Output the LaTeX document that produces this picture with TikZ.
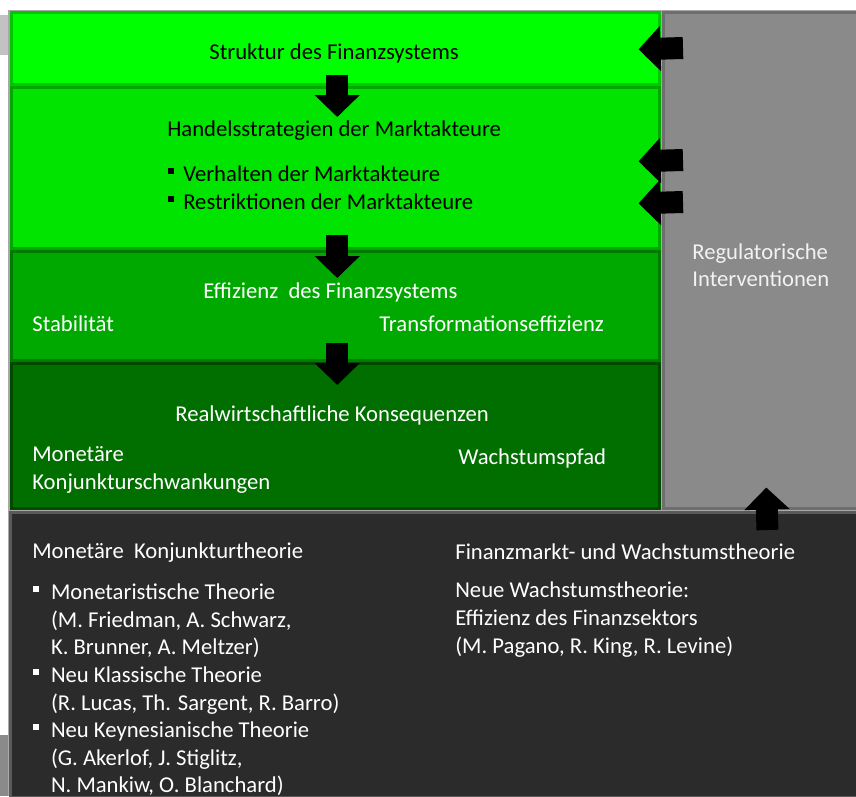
\documentclass[tikz,border=0pt]{standalone}
\usepackage{fontspec}
\setmainfont{Carlito}
\usetikzlibrary{arrows.meta, calc}

\definecolor{gA}{HTML}{00FF00}
\definecolor{gAd}{HTML}{00C800}
\definecolor{gB}{HTML}{00E400}
\definecolor{gBd}{HTML}{00A800}
\definecolor{gC}{HTML}{00A900}
\definecolor{gCd}{HTML}{007A00}
\definecolor{gD}{HTML}{006F00}
\definecolor{gDd}{HTML}{004A00}
\definecolor{grau}{HTML}{8A8A8A}
\definecolor{graud}{HTML}{6E6E6E}
\definecolor{dunkel}{HTML}{2B2B2B}
\definecolor{dunkeld}{HTML}{5A5A5A}
\definecolor{fuge}{HTML}{A8A8A8}
\definecolor{hell}{HTML}{F2F2F2}

\newcommand{\sqb}[1]{\makebox[#1][l]{\rule[0.33em]{0.25em}{0.25em}}}

\begin{document}
\begin{tikzpicture}[x=0.02cm, y=-0.02cm,
  box/.style 2 args={rectangle, anchor=north west, inner sep=0pt, fill=#1, draw=#2, line width=1.5pt},
  txt/.style={anchor=base west, inner sep=0pt, font=\fontsize{12.9}{15.5}\selectfont},
  blk/.style={line width=0.44cm, black, -{Triangle[length=0.44cm, width=0.88cm]}}]
  \useasboundingbox (0,0) rectangle (856,796);
  % Raender links
  \fill[fuge!70] (0,15) rectangle (9,55);
  \fill[grau] (0,735) rectangle (9,796);
  \fill[fuge] (8,10) rectangle (856,796);

  % Kaesten
  \node[box={gA}{gAd}, minimum width=12.96cm, minimum height=1.44cm] (struktur) at (10,11) {};
  \node[box={gB}{gBd}, minimum width=12.96cm, minimum height=3.22cm] (handel) at (10,86) {};
  \node[box={gC}{gCd}, minimum width=12.96cm, minimum height=2.18cm] (effizienz) at (10,250) {};
  \node[box={gD}{gDd}, minimum width=12.96cm, minimum height=2.9cm] (real) at (10,362) {};
  \node[box={grau}{graud}, minimum width=3.88cm, minimum height=9.92cm] (regul) at (662,11) {};
  \node[box={dunkel}{dunkeld}, minimum width=16.94cm, minimum height=5.7cm] (theorie) at (9,511) {};

  % Texte
  \node[txt] (tStruktur) at (209,59.6) {Struktur des Finanzsystems};
  \node[txt] (tHandel) at (167,136.6) {Handelsstrategien der Marktakteure};
  \node[txt] (tVerhalten) at (168,181.5) {\sqb{0.66em}Verhalten der Marktakteure};
  \node[txt] (tRestr) at (168,209.6) {\sqb{0.66em}Restriktionen der Marktakteure};
  \node[txt,white] (tEff) at (203,298) {Effizienz\ \ des Finanzsystems};
  \node[txt,white] (tStab) at (32,331) {Stabilität};
  \node[txt,white] (tTrans) at (379,331) {Transformationseffizienz};
  \node[txt,white] (tReal) at (175,421) {Realwirtschaftliche Konsequenzen};
  \node[txt,white] (tMon) at (32,461) {Monetäre};
  \node[txt,white] (tKonj) at (32,489.6) {Konjunkturschwankungen};
  \node[txt,white] (tWachs) at (458,464.6) {Wachstumspfad};
  \node[txt,hell] (tReg) at (692,259.6) {Regulatorische};
  \node[txt,hell] (tInt) at (692,286) {Interventionen};

  \node[txt,white] (tMKT) at (32,558) {Monetäre\ \ Konjunkturtheorie};
  \foreach \t [count=\i from 0] in {{\sqb{0.78em}Monetaristische Theorie},
      {\hspace*{0.78em}(M. Friedman, A. Schwarz,},
      {\hspace*{0.78em}K. Brunner, A. Meltzer)},
      {\sqb{0.78em}Neu Klassische Theorie},
      {\hspace*{0.78em}(R. Lucas, Th. Sargent, R. Barro)},
      {\sqb{0.78em}Neu Keynesianische Theorie},
      {\hspace*{0.78em}(G. Akerlof, J. Stiglitz,},
      {\hspace*{0.78em}N. Mankiw, O. Blanchard)}}
    \node[txt,white] (mk\i) at (33,{599.6+27.6*\i}) {\t};
  \node[txt,white] (tFW) at (455,559.6) {Finanzmarkt- und Wachstumstheorie};
  \foreach \t [count=\i from 0] in {{Neue Wachstumstheorie:},
      {Effizienz des Finanzsektors},
      {(M. Pagano, R. King, R. Levine)}}
    \node[txt,white] (fw\i) at (455,{597.6+27.7*\i}) {\t};

  % Pfeile
  \draw[blk] ($(struktur.south)+(2,-11)$) -- ($(handel.north)+(2,31)$);
  \draw[blk] ($(handel.south)+(2,-15)$) -- ($(effizienz.north)+(2,28)$);
  \draw[blk] ($(effizienz.south)+(2,-19)$) -- ($(real.north)+(2,23)$);
  \draw[blk] ($(regul.north west)+(21,37)$) -- ($(struktur.east)+(-22,1)$);
  \draw[blk] ($(regul.north west)+(21,149)$) -- ($(handel.east)+(-22,-6.5)$);
  \draw[blk] ($(regul.north west)+(21,191)$) -- ($(handel.east)+(-22,35.5)$);
  \draw[blk] ($(theorie.north east)+(-91,19)$) -- ($(regul.south)+(6,-22)$);
\end{tikzpicture}
\end{document}
